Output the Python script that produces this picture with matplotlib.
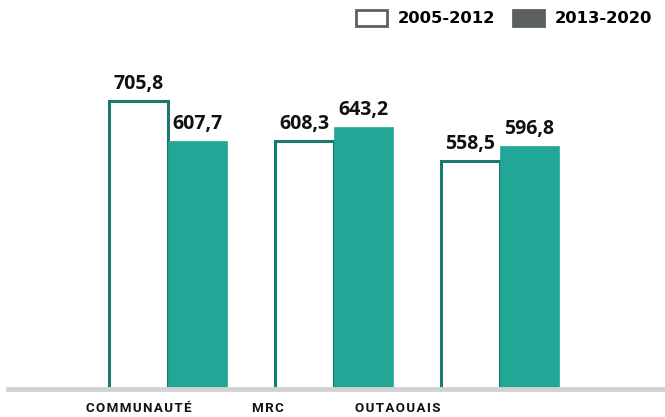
import numpy as np
import matplotlib.pyplot as plt
from matplotlib.patches import Patch

categories = ['COMMUNAUTÉ', 'MRC', 'OUTAOUAIS']
periods = ['2005-2012', '2013-2020']
values_2005_2012 = [705.8, 608.3, 558.5]
values_2013_2020 = [607.7, 643.2, 596.8]

teal = '#22a797'
dark_teal = '#1b7a6c'

fig = plt.figure(figsize=(6.65, 4.17), dpi=100)
ax = fig.add_axes([8 / 665, 28 / 417, 657 / 665, 359 / 417])

x = np.arange(len(categories))
w = 0.356
b1 = ax.bar(x - w / 2, values_2005_2012, w, color='white', edgecolor=dark_teal, linewidth=2.2)
b2 = ax.bar(x + w / 2, values_2013_2020, w, color=teal, edgecolor=teal, linewidth=0.5)

def fmt(v):
    return f'{v:.1f}'.replace('.', ',')

for bars, vals in [(b1, values_2005_2012), (b2, values_2013_2020)]:
    for rect, v in zip(bars, vals):
        ax.annotate(fmt(v), (rect.get_x() + rect.get_width() / 2, v),
                    xytext=(0, 5), textcoords='offset points',
                    ha='center', va='bottom', fontsize=14,
                    fontweight='bold', family='Open Sans', color='#111111')

# spaced-out capitals for the category names
spaced = ['\u200a'.join(c) for c in categories]

ax.set_xlim(-0.964, 2.994)
ax.set_ylim(0, 880)
ax.set_yticks([])
ax.set_xticks([-0.175, 0.602, 1.386])
ax.set_xticklabels(spaced, fontsize=9.6, fontweight='bold', color='#111111',
                   family=['Roboto', 'DejaVu Sans'])
ax.tick_params(axis='x', length=0, pad=9.5)
for s in ['top', 'left', 'right']:
    ax.spines[s].set_visible(False)
ax.spines['bottom'].set_color('#d2d2d2')
ax.spines['bottom'].set_linewidth(3.5)

handles = [Patch(facecolor='white', edgecolor='#5c6060', linewidth=2),
           Patch(facecolor='#5c6060', edgecolor='#5c6060', linewidth=2)]
fig.legend(handles, periods, loc='upper right', bbox_to_anchor=(652 / 665, 1 - 10 / 417),
           ncol=2, frameon=False, borderpad=0, borderaxespad=0,
           handlelength=1.9, handleheight=1.1, handletextpad=0.65, columnspacing=1.1,
           prop={'weight': 'bold', 'size': 11.8})

fig.savefig('out.png', dpi=100)
